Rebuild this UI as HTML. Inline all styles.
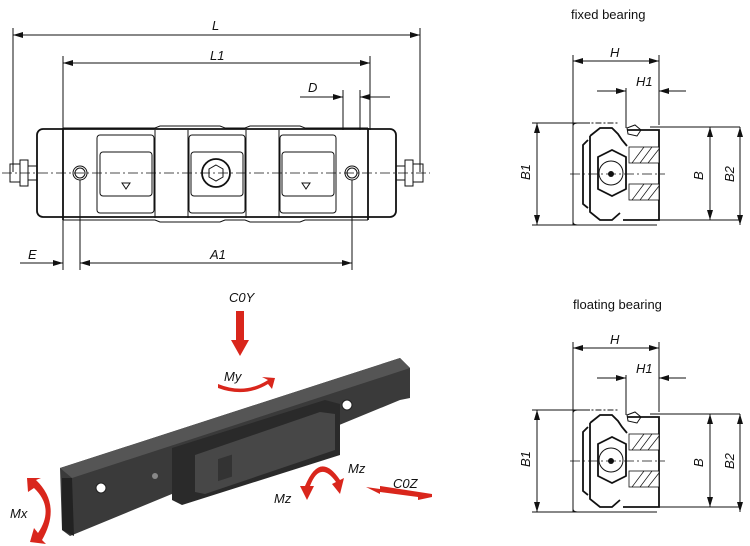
<!DOCTYPE html>
<html><head><meta charset="utf-8"><style>
html,body{margin:0;padding:0;background:#fff;width:750px;height:546px;overflow:hidden}
svg{display:block}
text{font-family:"Liberation Sans",sans-serif;font-style:italic;font-size:13px;fill:#111}
.l{stroke:#111;stroke-width:1;fill:none}
.t{stroke:#111;stroke-width:1.8;fill:none}
.c{stroke:#111;stroke-width:0.8;fill:none;stroke-dasharray:10 3 2 3}
</style></head><body>
<svg width="750" height="546" viewBox="0 0 750 546">
<defs>
<marker id="a" markerWidth="10" markerHeight="6" refX="10" refY="3" orient="auto-start-reverse" markerUnits="userSpaceOnUse"><path d="M0,0 L10,3 L0,6z" fill="#111"/></marker>
</defs>
<line class="l" x1="13" y1="28" x2="13" y2="172"/><line class="l" x1="420" y1="28" x2="420" y2="172"/>
<line class="l" x1="13" y1="35" x2="420" y2="35" marker-start="url(#a)" marker-end="url(#a)"/>
<text x="212" y="30">L</text>
<line class="l" x1="63" y1="56" x2="63" y2="270"/><line class="l" x1="370" y1="56" x2="370" y2="130"/>
<line class="l" x1="63" y1="63" x2="370" y2="63" marker-start="url(#a)" marker-end="url(#a)"/>
<text x="210" y="60">L1</text>
<line class="l" x1="343" y1="90" x2="343" y2="130"/><line class="l" x1="360" y1="90" x2="360" y2="130"/>
<line class="l" x1="300" y1="97" x2="343" y2="97" marker-end="url(#a)"/>
<line class="l" x1="390" y1="97" x2="360" y2="97" marker-end="url(#a)"/>
<text x="308" y="92">D</text>
<rect class="t" x="37" y="129" width="359" height="88" rx="6"/>
<path class="t" d="M63 128 L63 220 M368 128 L368 220"/>
<path class="l" d="M63 128 H155 L160 126 H220 L225 128 H245 L250 126 H300 L305 128 H368 M63 220 H155 L160 222 H220 L225 220 H245 L250 222 H300 L305 220 H368"/>
<rect class="l" x="97" y="135" width="57" height="78" rx="3"/>
<rect class="l" x="100" y="152" width="52" height="44" rx="3"/>
<rect class="l" x="189" y="135" width="56" height="78" rx="3"/>
<rect class="l" x="191" y="152" width="52" height="44" rx="3"/>
<rect class="l" x="280" y="135" width="56" height="78" rx="3"/>
<rect class="l" x="282" y="152" width="52" height="44" rx="3"/>
<path class="l" d="M155 130 V218 M188 130 V218 M246 130 V218 M279 130 V218"/>
<circle class="l" cx="80" cy="173" r="7"/><circle class="l" cx="80" cy="173" r="5"/>
<circle class="l" cx="352" cy="173" r="7"/><circle class="l" cx="352" cy="173" r="5"/>
<circle class="t" cx="216" cy="173" r="14"/><polygon class="l" points="216,165 223,169 223,177 216,181 209,177 209,169"/>
<path class="l" d="M122 183 h8 l-4 6z M302 183 h8 l-4 6z"/>
<path class="l" d="M10 164 h10 v18 h-10 z M20 160 h8 v26 h-8 z M28 166 h9 v14 h-9z"/>
<path class="l" d="M413 164 h10 v18 h-10 z M405 160 h8 v26 h-8 z M396 166 h9 v14 h-9z"/>
<line class="c" x1="2" y1="173" x2="430" y2="173"/>
<line class="l" x1="80" y1="180" x2="80" y2="270"/><line class="l" x1="352" y1="180" x2="352" y2="270"/>
<line class="l" x1="20" y1="263" x2="63" y2="263" marker-end="url(#a)"/>
<line class="l" x1="80" y1="263" x2="352" y2="263" marker-start="url(#a)" marker-end="url(#a)"/>
<text x="28" y="259">E</text><text x="210" y="259">A1</text>
<text x="571" y="19" style="font-style:normal;font-size:13px">fixed bearing</text>
<g id="bear">
<line class="l" x1="573" y1="55" x2="573" y2="225"/><line class="l" x1="659" y1="55" x2="659" y2="125"/>
<line class="l" x1="573" y1="61" x2="659" y2="61" marker-start="url(#a)" marker-end="url(#a)"/>
<text x="610" y="57">H</text>
<line class="l" x1="626" y1="88" x2="626" y2="128"/>
<line class="l" x1="597" y1="91" x2="626" y2="91" marker-end="url(#a)"/>
<line class="l" x1="686" y1="91" x2="659" y2="91" marker-end="url(#a)"/>
<text x="636" y="86">H1</text>
<line class="l" x1="532" y1="123" x2="590" y2="123"/><line class="l" x1="532" y1="225" x2="657" y2="225"/>
<line class="l" x1="537" y1="123" x2="537" y2="225" marker-start="url(#a)" marker-end="url(#a)"/>
<text transform="translate(530,180) rotate(-90)">B1</text>
<line class="l" x1="650" y1="127" x2="740" y2="127"/><line class="l" x1="650" y1="220" x2="740" y2="220"/>
<line class="l" x1="710" y1="127" x2="710" y2="220" marker-start="url(#a)" marker-end="url(#a)"/>
<line class="l" x1="740" y1="127" x2="740" y2="225" marker-start="url(#a)" marker-end="url(#a)"/>
<text transform="translate(703,180) rotate(-90)">B</text>
<text transform="translate(734,182) rotate(-90)">B2</text>
<path class="l" d="M573 126 Q573 123 578 123 H618 M573 222 Q573 225 578 225 H618" stroke-dasharray="6 2 2 2"/>
<path class="t" d="M590 136 L600 128 H612 L618 134 L622 140 L627 146 M590 136 V212 L600 220 H612 L620 213 M588 140 L583 145 V204 L588 208"/>
<path class="t" d="M627 130 H659 V220 H623"/>
<rect x="629" y="147" width="30" height="16" fill="#fff" stroke="#111" stroke-width="0.8"/>
<rect x="629" y="184" width="30" height="16" fill="#fff" stroke="#111" stroke-width="0.8"/>
<path d="M632 163 l12-16 M640 163 l12-16 M648 163 l11-14 M632 200 l12-16 M640 200 l12-16 M648 200 l11-14" stroke="#111" stroke-width="0.7"/>
<polygon class="t" points="598,157 612,150 626,157 626,189 612,196 598,189"/>
<circle class="l" cx="611" cy="173" r="12"/><circle cx="611" cy="174" r="3" fill="#111"/>
<path class="l" d="M627 128 l8 -3 l6 5 l-4 6 l-9 -2 z"/>
<line class="c" x1="570" y1="174" x2="665" y2="174"/>
</g>
<text x="573" y="309" style="font-style:normal;font-size:13px">floating bearing</text>
<use href="#bear" transform="translate(0,287)"/>
<polygon points="60,468 400,358 410,368 410,398 400,400 70,536 62,530" fill="#3a3a3a"/>
<polygon points="60,468 400,358 410,368 72,478" fill="#555"/>
<polygon points="62,478 72,478 74,536 62,530" fill="#222"/>
<circle cx="101" cy="488" r="5" fill="#fff" stroke="#222"/>
<circle cx="347" cy="405" r="5" fill="#fff" stroke="#222"/>
<polygon points="172,448 325,400 340,404 340,455 182,505 172,500" fill="#2a2a2a"/>
<polygon points="195,455 320,412 335,414 335,450 205,494 195,492" fill="#474747"/>
<rect x="218" y="455" width="14" height="22" fill="#333" transform="skewY(-18) translate(0,75)"/>
<circle cx="155" cy="476" r="3" fill="#888"/>
<g fill="#d9261c">
<polygon points="236,311 244,311 244,340 249,340 240,356 231,340 236,340"/>
<path d="M218 384 Q245 395 268 380 L262 377 L275 378 L272 389 L268 384 Q245 398 218 388z"/>
<path d="M36 480 Q62 505 42 540 L46 544 L30 542 L34 528 L38 533 Q55 508 34 488 L28 492 L27 478 L41 478z"/>
<path d="M305 486 Q320 450 340 480 L344 478 L340 494 L332 484 L336 482 Q320 460 310 486 L314 486 L307 500 L300 486z"/>
<polygon points="366,487 380,489 380,486 432,494 432,497 418,500 418,497 380,492 380,494"/>
</g>
<text x="229" y="302">C0Y</text><text x="224" y="381">My</text>
<text x="10" y="518">Mx</text><text x="274" y="503">Mz</text><text x="348" y="473">Mz</text><text x="393" y="488">C0Z</text>
</svg>
</body></html>
